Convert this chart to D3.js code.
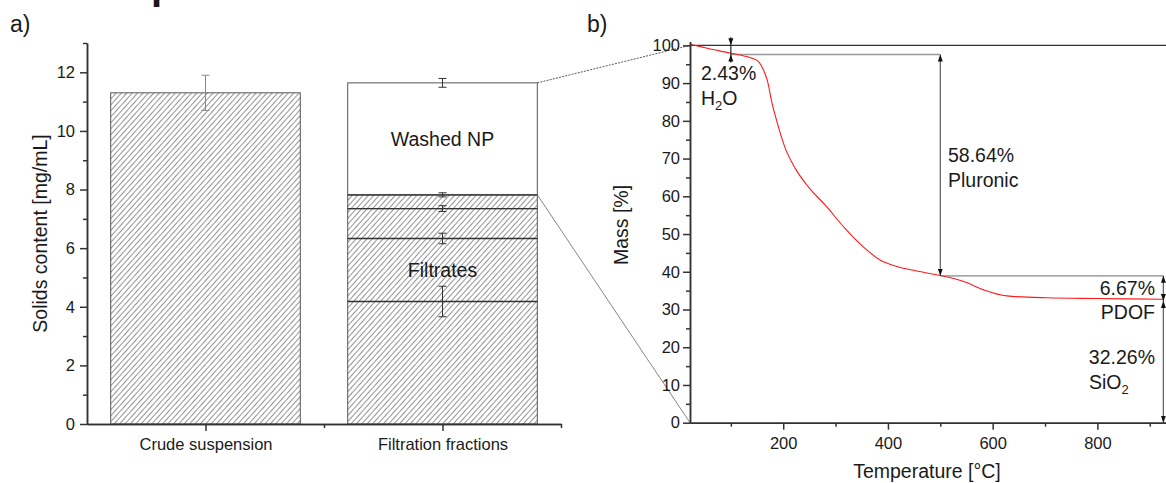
<!DOCTYPE html>
<html><head><meta charset="utf-8">
<script src="https://cdn.jsdelivr.net/npm/d3@7"></script>
<style>
body{margin:0;background:#fff}
text{font-family:"Liberation Sans",Arial,sans-serif;fill:#1a1a1a}
</style>
</head><body>
<svg id="c" width="1166" height="483"></svg>
<script>
// ---------- data ----------
const categories = ["Crude suspension", "Filtration fractions"];
const crudeValue = [11.3];
const crudeError = [0.6];
const fractionTops = [4.18, 6.33, 7.35, 7.82, 11.64];
const fractionErrors = [0.52, 0.18, 0.10, 0.07, 0.15];
const fractionLabels = ["Filtrates", "Washed NP"];
const leftYTicks = [0, 2, 4, 6, 8, 10, 12];
const leftYMinor = [1, 3, 5, 7, 9, 11, 13];

const tgaTemp = [22, 50, 76, 101, 125, 140, 152, 159, 165, 170, 178, 188, 204, 223, 248, 280, 318, 353, 385, 417, 455, 497, 545, 583, 627, 704, 800, 926];
const tgaMass = [100.3, 99.4, 98.6, 97.9, 97.2, 96.6, 95.8, 94.4, 92.6, 90.5, 85.1, 79.8, 72.7, 67.4, 62.5, 57.7, 51.5, 46.6, 43.1, 41.4, 40.2, 39.1, 37.4, 35.2, 33.6, 33.1, 32.9, 32.7];
const massLevels = [100, 97.57, 38.93, 32.26, 0];
const stepPercent = ["2.43%", "58.64%", "6.67%", "32.26%"];
const stepNames = ["H2O", "Pluronic", "PDOF", "SiO2"];
const stepTemps = [100, 500, 926];
const rightYTicks = [0, 10, 20, 30, 40, 50, 60, 70, 80, 90, 100];
const rightYMinor = [5, 15, 25, 35, 45, 55, 65, 75, 85, 95];
const rightXTicks = [200, 400, 600, 800];
const rightXMinor = [100, 300, 500, 700, 900];

// ---------- setup ----------
const svg = d3.select("#c");
svg.append("rect").attr("width", 1166).attr("height", 483).attr("fill", "#fff");
const defs = svg.append("defs");
const pat = defs.append("pattern").attr("id", "hatch").attr("patternUnits", "userSpaceOnUse")
  .attr("width", 4).attr("height", 4).attr("patternTransform", "rotate(42)");
pat.append("rect").attr("width", 4).attr("height", 4).attr("fill", "#fff");
pat.append("line").attr("x1", 0).attr("y1", 0).attr("x2", 0).attr("y2", 4)
  .attr("stroke", "#2a2a2a").attr("stroke-width", 1);
defs.append("marker").attr("id", "ah").attr("viewBox", "0 0 10 10")
  .attr("refX", 10).attr("refY", 5).attr("markerUnits", "userSpaceOnUse")
  .attr("markerWidth", 7).attr("markerHeight", 5).attr("preserveAspectRatio", "none")
  .attr("orient", "auto-start-reverse")
  .append("path").attr("d", "M0,0 L10,5 L0,10 z").attr("fill", "#111");

function styleAxis(g) {
  g.selectAll(".domain").attr("stroke", "#333").attr("stroke-width", 1.5);
  g.selectAll(".tick line").attr("stroke", "#333").attr("stroke-width", 1.5);
  g.selectAll(".tick text").attr("font-size", "16.5px").attr("fill", "#1a1a1a")
    .attr("font-family", '"Liberation Sans",Arial,sans-serif');
}

// cut-off heading glyph at top (as in the reference)
svg.append("text").attr("x", 151).attr("y", -1).attr("font-size", "40px")
  .attr("font-weight", "bold").text("p");

// ---------- panel a ----------
const xL = d3.scaleLinear().domain([0.5, 2.5]).range([87, 561]);
const yL = d3.scaleLinear().domain([0, 13]).range([424, 43]);
const bw = xL(1.4) - xL(1);

svg.append("text").attr("x", 10).attr("y", 32).attr("font-size", "23px").text("a)");

svg.append("rect").attr("x", xL(1) - bw).attr("y", yL(crudeValue[0]))
  .attr("width", 2 * bw).attr("height", yL(0) - yL(crudeValue[0]))
  .attr("fill", "url(#hatch)").attr("stroke", "#555").attr("stroke-width", 1);

const bottoms = [0].concat(fractionTops.slice(0, -1));
fractionTops.forEach((t, i) => {
  svg.append("rect").attr("x", xL(2) - bw).attr("y", yL(t))
    .attr("width", 2 * bw).attr("height", yL(bottoms[i]) - yL(t))
    .attr("fill", i < fractionTops.length - 1 ? "url(#hatch)" : "#fff")
    .attr("stroke", "#555").attr("stroke-width", 1);
});
fractionTops.slice(0, -1).forEach(t => {
  svg.append("line").attr("x1", xL(2) - bw).attr("x2", xL(2) + bw)
    .attr("y1", yL(t)).attr("y2", yL(t)).attr("stroke", "#333").attr("stroke-width", 1.3);
});

function errBar(x, v, e, col) {
  const g = svg.append("g").attr("stroke", col).attr("stroke-width", 1);
  g.append("line").attr("x1", x).attr("x2", x).attr("y1", yL(v + e)).attr("y2", yL(v - e));
  g.append("line").attr("x1", x - 4).attr("x2", x + 4).attr("y1", yL(v + e)).attr("y2", yL(v + e));
  g.append("line").attr("x1", x - 4).attr("x2", x + 4).attr("y1", yL(v - e)).attr("y2", yL(v - e));
}
errBar(xL(1), crudeValue[0], crudeError[0], "#888");
fractionTops.forEach((t, i) => errBar(xL(2), t, fractionErrors[i], "#333"));

svg.append("text").attr("x", xL(2)).attr("y", yL((fractionTops[0] + fractionTops[1]) / 2))
  .attr("dy", "0.36em").attr("text-anchor", "middle").attr("font-size", "19.5px").text(fractionLabels[0]);
svg.append("text").attr("x", xL(2)).attr("y", yL((fractionTops[3] + fractionTops[4]) / 2))
  .attr("dy", "0.36em").attr("text-anchor", "middle").attr("font-size", "19.5px").text(fractionLabels[1]);

const gyl = svg.append("g").attr("transform", `translate(${xL(0.5)},0)`)
  .call(d3.axisLeft(yL).tickValues(leftYTicks).tickSize(7).tickSizeOuter(0).tickPadding(5));
styleAxis(gyl);
const gylm = svg.append("g").attr("transform", `translate(${xL(0.5)},0)`)
  .call(d3.axisLeft(yL).tickValues(leftYMinor).tickSize(4).tickSizeOuter(0).tickFormat(""));
styleAxis(gylm);
const gxl = svg.append("g").attr("transform", `translate(0,${yL(0)})`)
  .call(d3.axisBottom(xL).tickValues([1, 2]).tickFormat((d, i) => categories[i]).tickSize(7).tickSizeOuter(0).tickPadding(7.3));
styleAxis(gxl);
const gxlm = svg.append("g").attr("transform", `translate(0,${yL(0)})`)
  .call(d3.axisBottom(xL).tickValues([1.5, 2.5]).tickSize(4).tickSizeOuter(0).tickFormat(""));
styleAxis(gxlm);

svg.append("text").attr("transform", `translate(47,${(yL(0) + yL(13)) / 2}) rotate(-90)`)
  .attr("text-anchor", "middle").attr("font-size", "19.5px").text("Solids content [mg/mL]");

// ---------- panel b ----------
const xR = d3.scaleLinear().domain([22, 931]).range([690, 1166]);
const yR = d3.scaleLinear().domain([0, 101]).range([422.7, 41.6]);

svg.append("text").attr("x", 587).attr("y", 32).attr("font-size", "23px").text("b)");

svg.append("line").attr("x1", xL(2) + bw).attr("y1", yL(fractionTops[4]))
  .attr("x2", xR(22)).attr("y2", yR(100)).attr("stroke", "#444").attr("stroke-width", 0.9)
  .attr("stroke-dasharray", "2,1.2");
svg.append("line").attr("x1", xL(2) + bw).attr("y1", yL(fractionTops[3]))
  .attr("x2", xR(22)).attr("y2", yR(0)).attr("stroke", "#777").attr("stroke-width", 0.9);

svg.append("line").attr("x1", xR(22)).attr("x2", xR.range()[1]).attr("y1", yR(massLevels[0])).attr("y2", yR(massLevels[0]))
  .attr("stroke", "#333").attr("stroke-width", 1.2);
svg.append("line").attr("x1", xR(stepTemps[0])).attr("x2", xR(stepTemps[1])).attr("y1", yR(massLevels[1])).attr("y2", yR(massLevels[1]))
  .attr("stroke", "#999").attr("stroke-width", 1.5);
svg.append("line").attr("x1", xR(stepTemps[1])).attr("x2", xR(stepTemps[2])).attr("y1", yR(massLevels[2])).attr("y2", yR(massLevels[2]))
  .attr("stroke", "#888").attr("stroke-width", 1.3);

const pts = tgaTemp.map((t, i) => [t, tgaMass[i]]);
svg.append("path").datum(pts)
  .attr("d", d3.line().x(d => xR(d[0])).y(d => yR(d[1])).curve(d3.curveMonotoneX))
  .attr("fill", "none").attr("stroke", "#ff1a1a").attr("stroke-width", 1.1);

const hx = xR(stepTemps[0]);
svg.append("line").attr("x1", hx).attr("x2", hx).attr("y1", yR(massLevels[0]) - 8).attr("y2", yR(massLevels[1]) + 8)
  .attr("stroke", "#333").attr("stroke-width", 1.3);
svg.append("path").attr("d", `M${hx - 2.5},${yR(massLevels[0]) - 7} L${hx + 2.5},${yR(massLevels[0]) - 7} L${hx},${yR(massLevels[0])} Z`).attr("fill", "#111");
svg.append("path").attr("d", `M${hx - 2.5},${yR(massLevels[1]) + 7} L${hx + 2.5},${yR(massLevels[1]) + 7} L${hx},${yR(massLevels[1])} Z`).attr("fill", "#111");

function vArrow(x, v1, v2) {
  svg.append("line").attr("x1", x).attr("x2", x).attr("y1", yR(v1)).attr("y2", yR(v2))
    .attr("stroke", "#666").attr("stroke-width", 1.3)
    .attr("marker-start", "url(#ah)").attr("marker-end", "url(#ah)");
}
vArrow(xR(stepTemps[1]), massLevels[1], massLevels[2]);
vArrow(xR(stepTemps[2]), massLevels[2], massLevels[3]);
vArrow(xR(stepTemps[2]), massLevels[3], massLevels[4]);

function chemText(sel, s) {
  const parts = s.split(/(\d)/).filter(p => p.length);
  parts.forEach(p => {
    if (/^\d$/.test(p)) sel.append("tspan").attr("font-size", "13px").attr("dy", "5").text(p);
    else {
      const t = sel.append("tspan").text(p);
      if (sel.selectAll("tspan").size() > 1) t.attr("dy", "-5");
    }
  });
}
function ann(x, y, anchor, txt, chem) {
  const t = svg.append("text").attr("x", x).attr("y", y).attr("text-anchor", anchor).attr("font-size", "19.5px");
  if (chem) chemText(t, txt); else t.text(txt);
}
ann(701, 80, "start", stepPercent[0]);
ann(701, 105, "start", stepNames[0], true);
ann(948, 162, "start", stepPercent[1]);
ann(948, 187, "start", stepNames[1]);
ann(1155, 295, "end", stepPercent[2]);
ann(1155, 319, "end", stepNames[2]);
ann(1155, 364, "end", stepPercent[3]);
ann(1089, 389, "start", stepNames[3], true);

const gyr = svg.append("g").attr("transform", `translate(${xR(22)},0)`)
  .call(d3.axisLeft(yR).tickValues(rightYTicks).tickSize(7).tickSizeOuter(0).tickPadding(3));
styleAxis(gyr);
const gyrm = svg.append("g").attr("transform", `translate(${xR(22)},0)`)
  .call(d3.axisLeft(yR).tickValues(rightYMinor).tickSize(4).tickSizeOuter(0).tickFormat(""));
styleAxis(gyrm);
const gxr = svg.append("g").attr("transform", `translate(0,${yR(0)})`)
  .call(d3.axisBottom(xR).tickValues(rightXTicks).tickSize(7).tickSizeOuter(0).tickPadding(7.3));
styleAxis(gxr);
const gxrm = svg.append("g").attr("transform", `translate(0,${yR(0)})`)
  .call(d3.axisBottom(xR).tickValues(rightXMinor).tickSize(4).tickSizeOuter(0).tickFormat(""));
styleAxis(gxrm);

svg.append("text").attr("transform", `translate(627.5,225) rotate(-90)`)
  .attr("text-anchor", "middle").attr("font-size", "19.5px").text("Mass [%]");
svg.append("text").attr("x", 927).attr("y", 478).attr("text-anchor", "middle")
  .attr("font-size", "19.5px").text("Temperature [°C]");
</script>
</body></html>
